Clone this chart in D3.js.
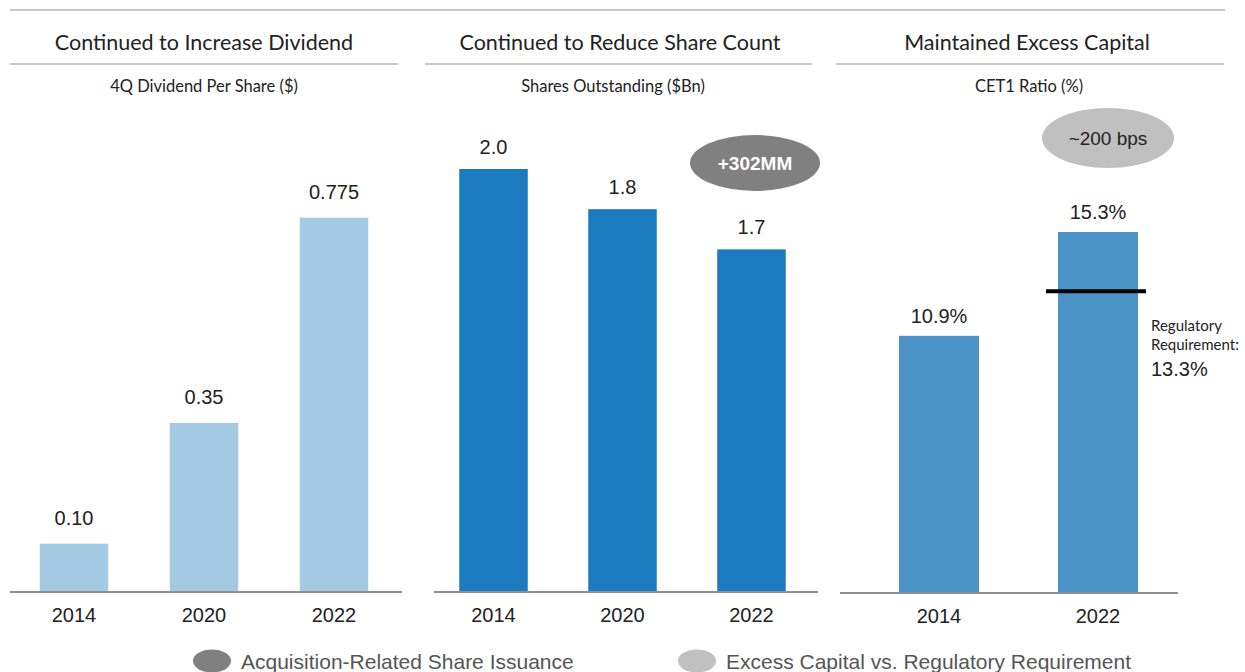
<!DOCTYPE html>
<html>
<head>
<meta charset="utf-8">
<script src="https://cdn.jsdelivr.net/npm/d3@7"></script>
<style>
  body { margin: 0; background: #fff; }
  svg { display: block; }
</style>
</head>
<body>
<div id="chart"></div>
<script>
// 数据
const titles = ['Continued to Increase Dividend', 'Continued to Reduce Share  Count', 'Maintained Excess Capital']
const subtitles = ['4Q Dividend Per Share ($)', 'Shares Outstanding ($Bn)', 'CET1 Ratio (%)']

const divYears = ['2014', '2020', '2022']
const divValues = [0.10, 0.35, 0.775]
const divLabels = ['0.10', '0.35', '0.775']

const shareYears = ['2014', '2020', '2022']
const shareValues = [2.0, 1.81, 1.62]
const shareLabels = ['2.0', '1.8', '1.7']

const cetYears = ['2014', '2022']
const cetValues = [10.9, 15.3]
const cetLabels = ['10.9%', '15.3%']
const regRequirement = 13.3

const legendItems = ['Acquisition-Related Share Issuance', 'Excess Capital vs. Regulatory Requirement']

const W = 1245, H = 672
const svg = d3.select('#chart').append('svg').attr('width', W).attr('height', H)

const titleFont = 'Lato, "Open Sans", sans-serif'
const numFont = '"Liberation Sans", Arial, sans-serif'

// 面板布局
const panels = [
  { years: divYears, values: divValues, labels: divLabels, color: '#a3c9e3',
    x: [9, 399], axis: [10, 402], base: 592, y: [0, 1], yTop: 592 - 483,
    line: [10, 398], titleX: 204, subX: 204, labelGap: 19 },
  { years: shareYears, values: shareValues, labels: shareLabels, color: '#1c7abe',
    x: [429, 816], axis: [434, 818], base: 592, y: [0, 2], yTop: 169,
    line: [425, 812], titleX: 620, subX: 613, labelGap: 15 },
  { years: cetYears, values: cetValues, labels: cetLabels, color: '#4b93c7',
    x: [859.5, 1177.5], axis: [840, 1178], base: 593, y: [0, 15.3], yTop: 593 - 361,
    line: [836, 1224], titleX: 1027, subX: 1029, labelGap: 13 }
]

// 顶部横线
svg.append('line').attr('x1', 10).attr('x2', 1225).attr('y1', 10).attr('y2', 10)
  .attr('stroke', '#c8c8c8').attr('stroke-width', 2)

panels.forEach((p, i) => {
  const g = svg.append('g')
  g.append('text').attr('x', p.titleX).attr('y', 50).attr('text-anchor', 'middle')
    .style('font-family', titleFont).style('font-size', '21.5px').style('fill', '#222')
    .text(titles[i])
  g.append('line').attr('x1', p.line[0]).attr('x2', p.line[1]).attr('y1', 64).attr('y2', 64)
    .attr('stroke', '#c8c8c8').attr('stroke-width', 2)
  g.append('text').attr('x', p.subX).attr('y', 92).attr('text-anchor', 'middle')
    .style('font-family', titleFont).style('font-size', '16.5px').style('fill', '#222')
    .text(subtitles[i])

  const bw = i === 2 ? 80 : 68.5
  const step = (p.x[1] - p.x[0]) / p.years.length
  const pad = 1 - bw / step
  const x = d3.scaleBand().domain(p.years).range(p.x).paddingInner(pad).paddingOuter(pad / 2)
  const y = d3.scaleLinear().domain(p.y).range([p.base, p.yTop])

  g.selectAll('rect').data(p.values).join('rect')
    .attr('x', (d, j) => x(p.years[j]))
    .attr('width', x.bandwidth())
    .attr('y', d => y(d))
    .attr('height', d => p.base - y(d))
    .attr('fill', p.color)

  g.selectAll('.val').data(p.values).join('text').attr('class', 'val')
    .attr('x', (d, j) => x(p.years[j]) + x.bandwidth() / 2)
    .attr('y', d => y(d) - p.labelGap)
    .attr('text-anchor', 'middle')
    .style('font-family', numFont).style('font-size', '20px').style('fill', '#222')
    .text((d, j) => p.labels[j])

  // x轴
  g.append('line').attr('x1', p.axis[0]).attr('x2', p.axis[1]).attr('y1', p.base).attr('y2', p.base)
    .attr('stroke', '#909090').attr('stroke-width', 2)
  const axis = d3.axisBottom(x).tickSize(0).tickPadding(16)
  const ax = g.append('g').attr('transform', `translate(0,${p.base})`).call(axis)
  ax.select('.domain').remove()
  ax.selectAll('text').style('font-family', numFont).style('font-size', '20px').style('fill', '#222')

  p.xScale = x
  p.yScale = y
})

// 监管要求线
const p3 = panels[2]
const regY = p3.yScale(regRequirement) + 12
const bx = p3.xScale('2022')
svg.append('line').attr('x1', bx - 12).attr('x2', bx + p3.xScale.bandwidth() + 8)
  .attr('y1', regY).attr('y2', regY).attr('stroke', '#000').attr('stroke-width', 4)
const regText = svg.append('text').style('fill', '#222')
regText.append('tspan').attr('x', 1151).attr('y', 331).style('font-family', titleFont).style('font-size', '15px').text('Regulatory')
regText.append('tspan').attr('x', 1151).attr('y', 350).style('font-family', titleFont).style('font-size', '15px').text('Requirement:')
regText.append('tspan').attr('x', 1151).attr('y', 376).style('font-family', numFont).style('font-size', '20px').text(regRequirement.toFixed(1) + '%')

// 椭圆标注
svg.append('ellipse').attr('cx', 755).attr('cy', 163).attr('rx', 65).attr('ry', 28).attr('fill', '#808080')
svg.append('text').attr('x', 755).attr('y', 170).attr('text-anchor', 'middle')
  .style('font-family', numFont).style('font-size', '19px').style('font-weight', 'bold').style('fill', '#fff')
  .text('+302MM')
svg.append('ellipse').attr('cx', 1108).attr('cy', 138).attr('rx', 66).attr('ry', 30).attr('fill', '#c0c0c0')
svg.append('text').attr('x', 1108).attr('y', 145).attr('text-anchor', 'middle')
  .style('font-family', numFont).style('font-size', '19px').style('fill', '#222')
  .text('~200 bps')

// 图例
const legendColors = ['#808080', '#c0c0c0']
const legendX = [212, 697]
legendItems.forEach((t, i) => {
  svg.append('ellipse').attr('cx', legendX[i]).attr('cy', 661).attr('rx', 19).attr('ry', 11.5).attr('fill', legendColors[i])
  svg.append('text').attr('x', legendX[i] + 29).attr('y', 669)
    .style('font-family', numFont).style('font-size', '21px').style('fill', '#555')
    .text(t)
})
</script>
</body>
</html>
